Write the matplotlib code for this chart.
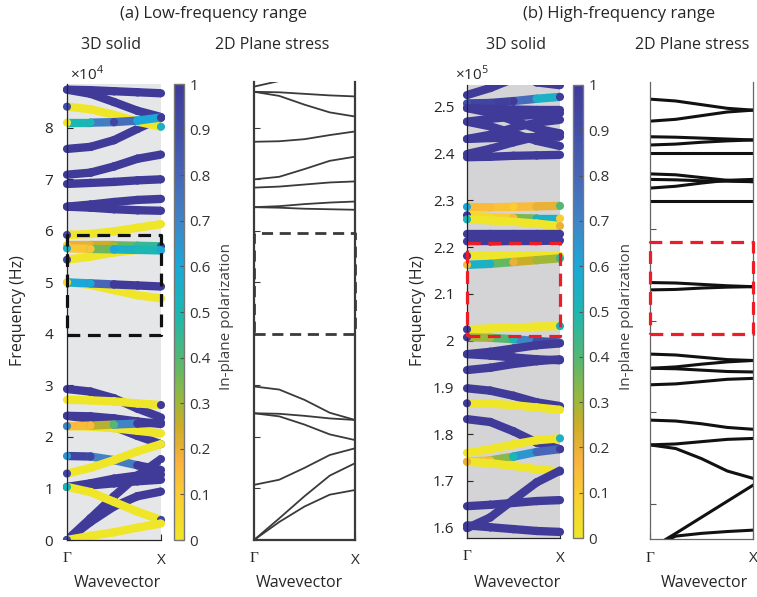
import numpy as np
import matplotlib
matplotlib.use("Agg")
import matplotlib.pyplot as plt
from matplotlib.collections import LineCollection
from matplotlib.colors import LinearSegmentedColormap, Normalize
from matplotlib.cm import ScalarMappable
from matplotlib.patches import Rectangle

plt.rcParams['font.family'] = ['Open Sans', 'DejaVu Sans']
plt.rcParams['mathtext.fontset'] = 'custom'
plt.rcParams['mathtext.rm'] = 'Open Sans'

# wavevector samples (Gamma -> X)
k_pts = [0.0, 0.25, 0.5, 0.75, 1.0]
k_labels = ['Γ', 'X']

# (a) low-frequency, 3D solid: frequencies (x1e4 Hz) and in-plane polarization
low3d_f = [
    [8.74, 8.73, 8.71, 8.69, 8.67],
    [8.74, 8.66, 8.50, 8.33, 8.21],
    [7.59, 7.63, 7.76, 7.98, 8.19],
    [8.41, 8.36, 8.25, 8.12, 8.02],
    [8.10, 8.10, 8.11, 8.14, 8.20],
    [7.09, 7.13, 7.25, 7.40, 7.48],
    [6.91, 6.93, 6.95, 6.98, 7.00],
    [6.47, 6.51, 6.56, 6.60, 6.62],
    [6.47, 6.45, 6.42, 6.40, 6.39],
    [5.92, 5.94, 5.99, 6.06, 6.13],
    [5.44, 5.50, 5.58, 5.63, 5.66],
    [5.72, 5.72, 5.72, 5.71, 5.70],
    [5.66, 5.65, 5.64, 5.63, 5.62],
    [5.00, 4.95, 4.85, 4.75, 4.69],
    [5.00, 4.98, 4.96, 4.94, 4.92],
    [2.93, 2.88, 2.75, 2.55, 2.38],
    [2.41, 2.35, 2.20, 2.02, 1.86],
    [2.41, 2.40, 2.36, 2.30, 2.25],
    [2.72, 2.71, 2.69, 2.65, 2.62],
    [2.21, 2.20, 2.17, 2.12, 2.07],
    [2.21, 2.22, 2.24, 2.26, 2.28],
    [1.63, 1.62, 1.55, 1.45, 1.36],
    [1.29, 1.40, 1.55, 1.72, 1.86],
    [1.03, 1.06, 1.10, 1.14, 1.17],
    [1.03, 1.10, 1.19, 1.25, 1.27],
    [0.00, 0.42, 0.85, 1.25, 1.57],
    [0.00, 0.35, 0.65, 0.85, 0.94],
    [1.03, 0.93, 0.74, 0.55, 0.39],
    [0.00, 0.08, 0.15, 0.24, 0.32],
]
low3d_p = [
    [1, 1, 1, 1, 1],
    [1, 1, 1, 1, 1],
    [1, 1, 1, 1, 1],
    [0.9, 0, 0, 0, 0.55],
    [0, 0.5, 0.95, 0.6, 1],
    [1, 1, 1, 1, 1],
    [1, 1, 1, 1, 1],
    [1, 1, 1, 1, 1],
    [1, 1, 1, 1, 1],
    [0.95, 0, 0, 0, 0],
    [0.95, 0, 0, 0, 0],
    [0.1, 0.2, 0.3, 0.45, 0.95],
    [0.55, 0.12, 0.6, 0.5, 0.6],
    [0, 0, 0, 0, 0],
    [0.05, 0.6, 1, 1, 1],
    [1, 1, 1, 1, 1],
    [1, 1, 1, 1, 1],
    [1, 1, 1, 1, 1],
    [0, 0, 0, 0, 1],
    [0, 0, 0, 0, 0],
    [0.7, 0.15, 0.4, 1, 1],
    [0.65, 0.95, 0.45, 1, 1],
    [0.95, 0, 0, 0, 0],
    [1, 1, 1, 1, 1],
    [1, 1, 1, 1, 1],
    [1, 1, 1, 1, 1],
    [1, 1, 1, 1, 1],
    [0.5, 0, 0, 0, 0.95],
    [0.9, 0, 0, 0, 0],
]

# (a) low-frequency, 2D plane stress (x1e4 Hz)
low2d_f = [
    [8.80, 8.91, 9.00, 9.10, 9.20],
    [8.70, 8.69, 8.66, 8.63, 8.61],
    [8.70, 8.62, 8.45, 8.30, 8.22],
    [7.73, 7.74, 7.78, 7.86, 7.93],
    [7.00, 7.05, 7.20, 7.36, 7.44],
    [6.84, 6.86, 6.90, 6.94, 6.96],
    [6.46, 6.48, 6.52, 6.55, 6.57],
    [6.46, 6.45, 6.43, 6.42, 6.41],
    [2.98, 2.92, 2.72, 2.47, 2.33],
    [2.46, 2.45, 2.41, 2.36, 2.33],
    [2.46, 2.40, 2.24, 2.05, 1.94],
    [1.07, 1.17, 1.40, 1.65, 1.78],
    [0.00, 0.42, 0.85, 1.25, 1.49],
    [0.00, 0.35, 0.65, 0.88, 0.97],
]

# (b) high-frequency, 3D solid (x1e5 Hz)
high3d_f = [
    [2.525, 2.540, 2.560, 2.580, 2.600],
    [2.620, 2.600, 2.575, 2.552, 2.546],
    [2.507, 2.508, 2.512, 2.517, 2.521],
    [2.497, 2.495, 2.494, 2.493, 2.493],
    [2.468, 2.474, 2.479, 2.483, 2.486],
    [2.497, 2.487, 2.470, 2.453, 2.443],
    [2.468, 2.458, 2.443, 2.427, 2.416],
    [2.431, 2.440, 2.455, 2.466, 2.472],
    [2.399, 2.410, 2.424, 2.436, 2.443],
    [2.392, 2.393, 2.395, 2.396, 2.397],
    [2.431, 2.433, 2.434, 2.435, 2.436],
    [2.286, 2.285, 2.286, 2.287, 2.288],
    [2.268, 2.264, 2.262, 2.261, 2.261],
    [2.259, 2.257, 2.254, 2.250, 2.245],
    [2.228, 2.228, 2.228, 2.228, 2.228],
    [2.212, 2.212, 2.213, 2.213, 2.214],
    [2.181, 2.181, 2.181, 2.181, 2.181],
    [2.162, 2.164, 2.168, 2.172, 2.176],
    [2.024, 2.026, 2.028, 2.030, 2.031],
    [2.007, 2.006, 2.003, 1.999, 1.996],
    [1.971, 1.976, 1.983, 1.990, 1.994],
    [1.971, 1.968, 1.964, 1.960, 1.958],
    [1.937, 1.942, 1.950, 1.956, 1.960],
    [1.898, 1.893, 1.882, 1.868, 1.860],
    [1.866, 1.865, 1.862, 1.857, 1.852],
    [1.832, 1.826, 1.806, 1.782, 1.768],
    [1.760, 1.768, 1.778, 1.787, 1.791],
    [1.741, 1.744, 1.752, 1.762, 1.768],
    [1.741, 1.738, 1.732, 1.725, 1.720],
    [1.599, 1.622, 1.660, 1.697, 1.722],
    [1.646, 1.649, 1.653, 1.657, 1.659],
    [1.605, 1.601, 1.597, 1.593, 1.591],
]
high3d_p = [
    [1, 1, 1, 1, 1],
    [1, 1, 1, 1, 1],
    [0.9, 0.95, 1, 0.55, 1],
    [1, 1, 1, 1, 1],
    [1, 1, 1, 1, 1],
    [1, 1, 1, 1, 1],
    [1, 1, 1, 1, 1],
    [1, 1, 1, 1, 1],
    [1, 1, 1, 1, 1],
    [1, 1, 1, 1, 1],
    [1, 1, 1, 1, 1],
    [0.6, 0.15, 0.1, 0.2, 0.4],
    [1, 0.05, 0.15, 0.55, 0.1],
    [0.5, 0, 0, 0, 0.2],
    [1, 1, 1, 1, 1],
    [1, 1, 1, 1, 1],
    [1, 0, 0, 0, 0],
    [0.15, 0.55, 0.2, 0.3, 0.45],
    [1, 0, 0, 0, 0.55],
    [1, 0.3, 0.5, 0.9, 0.7],
    [1, 1, 1, 1, 1],
    [1, 1, 1, 1, 1],
    [1, 1, 1, 1, 1],
    [1, 1, 1, 1, 1],
    [1, 0, 0, 0, 0],
    [1, 1, 1, 1, 1],
    [0, 0, 0, 0, 0.55],
    [0.1, 0.15, 0.5, 0.8, 1],
    [0.2, 0, 0, 0, 0.95],
    [1, 1, 1, 1, 1],
    [1, 1, 1, 1, 1],
    [1, 1, 1, 1, 1],
]

# (b) high-frequency, 2D plane stress (x1e5 Hz)
high2d_f = [
    [2.483, 2.479, 2.471, 2.463, 2.459],
    [2.435, 2.439, 2.447, 2.455, 2.459],
    [2.401, 2.400, 2.398, 2.396, 2.394],
    [2.383, 2.385, 2.389, 2.392, 2.394],
    [2.366, 2.366, 2.366, 2.366, 2.366],
    [2.320, 2.318, 2.312, 2.306, 2.303],
    [2.308, 2.307, 2.305, 2.304, 2.303],
    [2.289, 2.293, 2.300, 2.306, 2.308],
    [2.260, 2.260, 2.260, 2.260, 2.260],
    [2.083, 2.082, 2.079, 2.076, 2.074],
    [2.067, 2.068, 2.071, 2.073, 2.074],
    [1.927, 1.925, 1.920, 1.915, 1.913],
    [1.896, 1.899, 1.905, 1.910, 1.913],
    [1.896, 1.895, 1.892, 1.889, 1.888],
    [1.860, 1.862, 1.867, 1.872, 1.874],
    [1.783, 1.781, 1.775, 1.767, 1.763],
    [1.729, 1.731, 1.736, 1.741, 1.743],
    [1.729, 1.721, 1.699, 1.672, 1.656],
    [1.502, 1.536, 1.571, 1.606, 1.641],
    [1.505, 1.530, 1.536, 1.540, 1.543],
]

# band-gap boxes (lower, upper)
low3d_box = [3.97, 5.92]
low2d_box = [4.00, 5.96]
high3d_box = [2.010, 2.209]
high2d_box = [1.971, 2.171]

# reversed parula-like colormap as it looks in the figure (yellow = 0, blue = 1)
cmap_pts = [
    (0.00, (0.94, 0.90, 0.16)),
    (0.10, (0.98, 0.80, 0.20)),
    (0.17, (0.98, 0.70, 0.24)),
    (0.25, (0.80, 0.68, 0.15)),
    (0.30, (0.62, 0.72, 0.22)),
    (0.40, (0.32, 0.72, 0.45)),
    (0.50, (0.10, 0.72, 0.70)),
    (0.60, (0.10, 0.66, 0.85)),
    (0.70, (0.25, 0.52, 0.78)),
    (0.80, (0.28, 0.40, 0.72)),
    (0.90, (0.26, 0.31, 0.66)),
    (1.00, (0.25, 0.23, 0.60)),
]
cmap = LinearSegmentedColormap.from_list('parula_r', cmap_pts)
norm = Normalize(0, 1)

W, H = 757, 597
TXT = '#262626'


def rect(x0, x1, ytop, ybot):
    return [x0 / W, 1 - ybot / H, (x1 - x0) / W, (ybot - ytop) / H]


def draw_bands(ax, f_list, p_list):
    clip = Rectangle((-0.08, 0), 1.16, 1, transform=ax.transAxes)
    for i, (f, p) in enumerate(zip(f_list, p_list)):
        pts = np.column_stack([k_pts, f])
        segs = np.stack([pts[:-1], pts[1:]], axis=1)
        p = np.array(p, dtype=float)
        vals = (p[:-1] + p[1:]) / 2
        vals[0] = p[1]
        vals[-1] = p[-2]
        lc = LineCollection(segs, cmap=cmap, norm=norm, linewidths=6, zorder=2 + i * 0.01)
        lc.set_array(vals)
        lc.set_capstyle('round')
        lc.set_joinstyle('round')
        lc.set_clip_path(clip)
        ax.add_collection(lc)
        sc = ax.scatter(k_pts, f, c=p, cmap=cmap, norm=norm, s=34, edgecolors='none',
                        zorder=2.005 + i * 0.01)
        sc.set_clip_path(clip)


def style_x(ax):
    ax.set_xlim(0, 1)
    ax.set_xticks([0, 1])
    ax.set_xticklabels(k_labels)
    ax.tick_params(axis='x', direction='in', length=4, pad=9, labelsize=11, colors=TXT)
    ax.get_xticklabels()[0].set_family(['Liberation Serif'])


fig = plt.figure(figsize=(W / 100, H / 100), dpi=100)

# ---------- (a) 3D solid ----------
ax1 = fig.add_axes(rect(67, 161, 84, 540))
ax1.set_facecolor('#e5e6e8')
draw_bands(ax1, low3d_f, low3d_p)
ax1.set_ylim(0, 8.85)
ax1.set_yticks(range(0, 9))
ax1.tick_params(axis='y', direction='in', length=4, pad=10, labelsize=11, colors=TXT)
style_x(ax1)
for s in ['top', 'right']:
    ax1.spines[s].set_visible(False)
for s in ['left', 'bottom']:
    ax1.spines[s].set_color(TXT)
    ax1.spines[s].set_linewidth(0.9)
ax1.plot([0, 1, 1, 0, 0], [low3d_box[0], low3d_box[0], low3d_box[1], low3d_box[1], low3d_box[0]],
         color='#111111', lw=2.3, ls=(0, (4, 2.4)), clip_on=False, zorder=5)

cax1 = fig.add_axes(rect(174, 184, 84, 540))
cb1 = fig.colorbar(ScalarMappable(norm=norm, cmap=cmap), cax=cax1)

# ---------- (a) 2D plane stress ----------
ax2 = fig.add_axes(rect(254, 355, 82, 540))
for f in low2d_f:
    ax2.plot(k_pts, f, color='#3a3a3a', lw=1.3)
ax2.set_ylim(0, 8.89)
ax2.set_yticks(range(1, 9))
ax2.set_yticklabels([])
ax2.tick_params(axis='y', direction='in', length=4, colors='#3a3a3a')
style_x(ax2)
ax2.spines['top'].set_visible(False)
for s in ['left', 'right', 'bottom']:
    ax2.spines[s].set_color('#3a3a3a')
    ax2.spines[s].set_linewidth(1.6)
ax2.plot([0, 1, 1, 0, 0], [low2d_box[0], low2d_box[0], low2d_box[1], low2d_box[1], low2d_box[0]],
         color='#3a3a3a', lw=2.0, ls=(0, (4, 2.4)), clip_on=False, zorder=5)

# ---------- (b) 3D solid ----------
ax3 = fig.add_axes(rect(467, 560, 85, 538))
ax3.set_facecolor('#d4d4d6')
draw_bands(ax3, high3d_f, high3d_p)
ax3.set_ylim(1.578, 2.5464)
ax3.set_yticks(np.round(np.arange(1.6, 2.51, 0.1), 1))
ax3.set_yticklabels(['%g' % v for v in np.round(np.arange(1.6, 2.51, 0.1), 1)])
ax3.tick_params(axis='y', direction='in', length=4, pad=9, labelsize=11, colors=TXT)
style_x(ax3)
for s in ['top', 'right']:
    ax3.spines[s].set_visible(False)
for s in ['left', 'bottom']:
    ax3.spines[s].set_color(TXT)
    ax3.spines[s].set_linewidth(0.9)
ax3.plot([0, 1, 1, 0, 0], [high3d_box[0], high3d_box[0], high3d_box[1], high3d_box[1], high3d_box[0]],
         color='#ee1c25', lw=2.3, ls=(0, (4, 2.4)), clip_on=False, zorder=5)

cax3 = fig.add_axes(rect(573, 583, 85, 538))
cb3 = fig.colorbar(ScalarMappable(norm=norm, cmap=cmap), cax=cax3)

# ---------- (b) 2D plane stress ----------
ax4 = fig.add_axes(rect(650, 753, 82, 539))
for f in high2d_f:
    ax4.plot(k_pts, f, color='#111111', lw=2.2)
ax4.set_ylim(1.5237, 2.5204)
ax4.set_yticks([1.6, 1.8, 2.0, 2.2, 2.4])
ax4.set_yticklabels([])
ax4.tick_params(axis='y', direction='in', length=4, colors='#555555')
style_x(ax4)
ax4.spines['top'].set_visible(False)
for s in ['left', 'right', 'bottom']:
    ax4.spines[s].set_color('#666666')
    ax4.spines[s].set_linewidth(0.9)
ax4.plot([0, 1, 1, 0, 0], [high2d_box[0], high2d_box[0], high2d_box[1], high2d_box[1], high2d_box[0]],
         color='#ee1c25', lw=2.3, ls=(0, (4, 2.4)), clip_on=False, zorder=5)

# colorbar styling
for cb in (cb1, cb3):
    cb.set_ticks(np.round(np.arange(0, 1.01, 0.1), 1))
    cb.set_ticklabels(['%g' % v for v in np.round(np.arange(0, 1.01, 0.1), 1)])
    cb.outline.set_edgecolor('#777777')
    cb.outline.set_linewidth(1.0)
    cb.ax.tick_params(direction='in', length=3, width=0.8, color='#555555', pad=4,
                      labelsize=11, labelcolor='#333333')

# texts
fig.text(214 / W, 1 - 14 / H, '(a) Low-frequency range', ha='center', va='center', fontsize=12, color=TXT)
fig.text(619 / W, 1 - 14 / H, '(b) High-frequency range', ha='center', va='center', fontsize=12, color=TXT)
for x, t in [(111, '3D solid'), (272, '2D Plane stress'), (516, '3D solid'), (692, '2D Plane stress')]:
    fig.text(x / W, 1 - 45 / H, t, ha='center', va='center', fontsize=11.5, color=TXT)
fig.text(70 / W, 1 - 74 / H, r'×10$^{4}$', ha='left', va='center', fontsize=11, color=TXT)
fig.text(455 / W, 1 - 74 / H, r'×10$^{5}$', ha='left', va='center', fontsize=11, color=TXT)
for x in (18, 418):
    fig.text(x / W, 1 - 311 / H, 'Frequency (Hz)', ha='center', va='center', rotation=90,
             fontsize=11.5, color=TXT)
for x in (226, 627):
    fig.text(x / W, 1 - 316 / H, 'In-plane polarization', ha='center', va='center', rotation=90,
             fontsize=11, color='#404040')
for x in (117, 299, 517, 704):
    fig.text(x / W, 1 - 583 / H, 'Wavevector', ha='center', va='center', fontsize=11.5, color=TXT)

fig.savefig('out.png', dpi=100)
